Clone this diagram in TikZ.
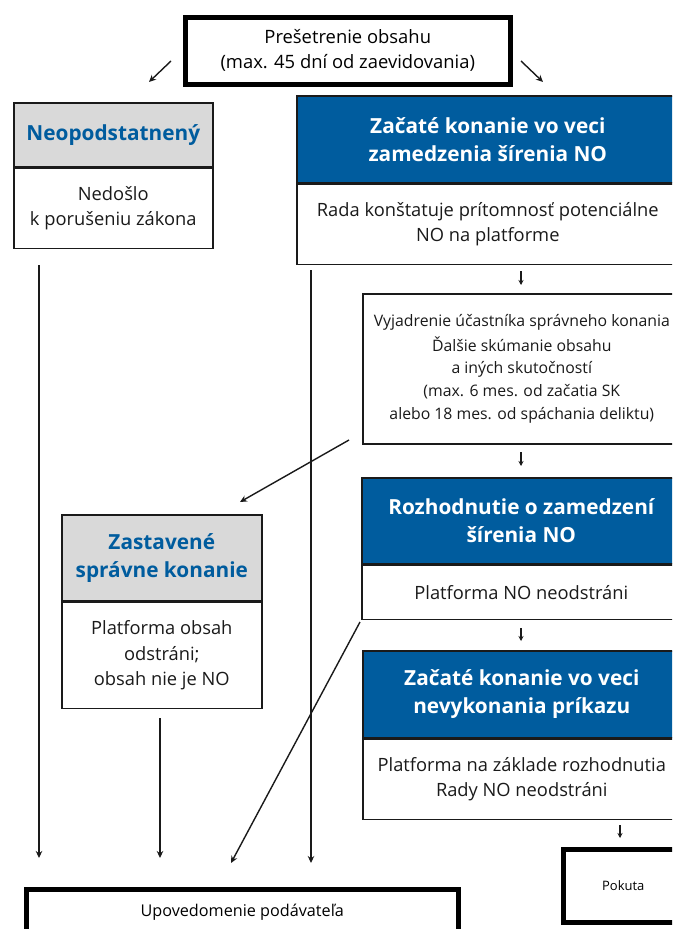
\documentclass[tikz,border=0pt]{standalone}
\usepackage{fontspec}
\setmainfont{Open Sans}
\usetikzlibrary{arrows.meta,calc,positioning}
\definecolor{konanieBlue}{HTML}{005C9E}
\definecolor{konanieGray}{HTML}{D9D9D9}
\definecolor{konanieInk}{HTML}{1A1A1A}

\begin{document}
\begin{tikzpicture}[x=1pt,y=-1pt,
    box/.style={rectangle, draw=konanieInk, line width=1.6, anchor=north west, align=center, inner sep=0pt},
    headblue/.style={box, fill=konanieBlue, text=white, font=\bfseries\fontsize{20.8}{28}\selectfont},
    headgray/.style={box, fill=konanieGray, text=konanieBlue, font=\bfseries\fontsize{20.8}{28}\selectfont},
    bodybox/.style={box, fill=white, text=konanieInk, font=\fontsize{18.3}{25.5}\selectfont},
    endbox/.style={box, draw=black, line width=4.5, fill=white, text=black},
    arr/.style={-{Stealth[length=7pt,width=6.5pt]}, line width=1.4, konanieInk},
    arrsmall/.style={-{Stealth[length=5pt,width=5pt]}, line width=1.3, konanieInk}]
  \useasboundingbox (0,0) rectangle (672,929);
  \clip (0,0) rectangle (672,929);
  % top box
  \node[endbox, minimum width=325, minimum height=67, font=\fontsize{18.4}{25}\selectfont] (presetrenie) at (183,15) {Prešetrenie obsahu\\(max. 45 dní od zaevidovania)};
  % left branch
  \node[headgray, minimum width=199, minimum height=64] (neoHead) at (13,102) {Neopodstatnený};
  \node[bodybox, minimum width=199, minimum height=80] (neoBody) at (neoHead.south west) {Nedošlo\\k porušeniu zákona};
  % right column
  \node[headblue, minimum width=382, minimum height=87] (zacHead) at (296,95) {Začaté konanie vo veci\\zamedzenia šírenia NO};
  \node[bodybox, minimum width=382, minimum height=80] (zacBody) at (zacHead.south west) {Rada konštatuje prítomnosť potenciálne\\NO na platforme};
  \node[bodybox, minimum width=318, minimum height=150, font=\fontsize{15.8}{22.8}\selectfont] (vyjadrenie) at (362,293) {Vyjadrenie účastníka správneho konania\\[2pt]Ďalšie skúmanie obsahu\\a iných skutočností\\(max. 6 mes. od začatia SK\\alebo 18 mes. od spáchania deliktu)};
  \node[headblue, minimum width=319, minimum height=86] (rozHead) at (361,477) {Rozhodnutie o zamedzení\\šírenia NO};
  \node[bodybox, minimum width=319, minimum height=54] (rozBody) at (rozHead.south west) {Platforma NO neodstráni};
  \node[headblue, minimum width=318, minimum height=87] (nevHead) at (362,650) {Začaté konanie vo veci\\nevykonania príkazu};
  \node[bodybox, minimum width=318, minimum height=80, font=\fontsize{18.3}{24.5}\selectfont] (nevBody) at (nevHead.south west) {Platforma na základe rozhodnutia\\Rady NO neodstráni};
  % stopped proceedings
  \node[headgray, minimum width=200, minimum height=86] (zasHead) at (61,514) {Zastavené\\správne konanie};
  \node[bodybox, minimum width=200, minimum height=106] (zasBody) at (zasHead.south west) {Platforma obsah\\odstráni;\\obsah nie je NO};
  % end boxes
  \node[endbox, minimum width=432, minimum height=46, font=\fontsize{16.2}{20}\selectfont] (upovedomenie) at (24,887) {Upovedomenie podávateľa};
  \node[endbox, minimum width=120, minimum height=73, font=\fontsize{13}{15}\selectfont] (pokuta) at (561,847) {Pokuta};

  % connector ends
  \coordinate (preL) at (171,61);   \coordinate (neoIn) at (149,82);
  \coordinate (preR) at (521,61);   \coordinate (zacIn) at (543,82);
  \coordinate (neoOut) at (39,265); \coordinate (neoEnd) at (39,858);
  \coordinate (zacOut) at (311,270); \coordinate (zacEnd) at (311,863);
  \coordinate (zacDown) at (521,271); \coordinate (vyjIn) at (521,285);
  \coordinate (vyjOut) at (349,440); \coordinate (zasIn) at (240,502);
  \coordinate (vyjDown) at (521,452); \coordinate (rozIn) at (521,466);
  \coordinate (rozDown) at (521,628); \coordinate (nevIn) at (521,641);
  \coordinate (zasOut) at (160,718); \coordinate (zasEnd) at (160,858);
  \coordinate (rozOut) at (360,622); \coordinate (rozEnd) at (231,863);
  \coordinate (nevDown) at (620,825); \coordinate (pokIn) at (620,838);

  \draw[arr] (preL) -- (neoIn);
  \draw[arr] (preR) -- (zacIn);
  \draw[arr] (neoOut) -- (neoEnd);
  \draw[arr] (zacOut) -- (zacEnd);
  \draw[arr] (vyjOut) -- (zasIn);
  \draw[arr] (zasOut) -- (zasEnd);
  \draw[arr] (rozOut) -- (rozEnd);
  \draw[arrsmall] (zacDown) -- (vyjIn);
  \draw[arrsmall] (vyjDown) -- (rozIn);
  \draw[arrsmall] (rozDown) -- (nevIn);
  \draw[arrsmall] (nevDown) -- (pokIn);
\end{tikzpicture}
\end{document}
